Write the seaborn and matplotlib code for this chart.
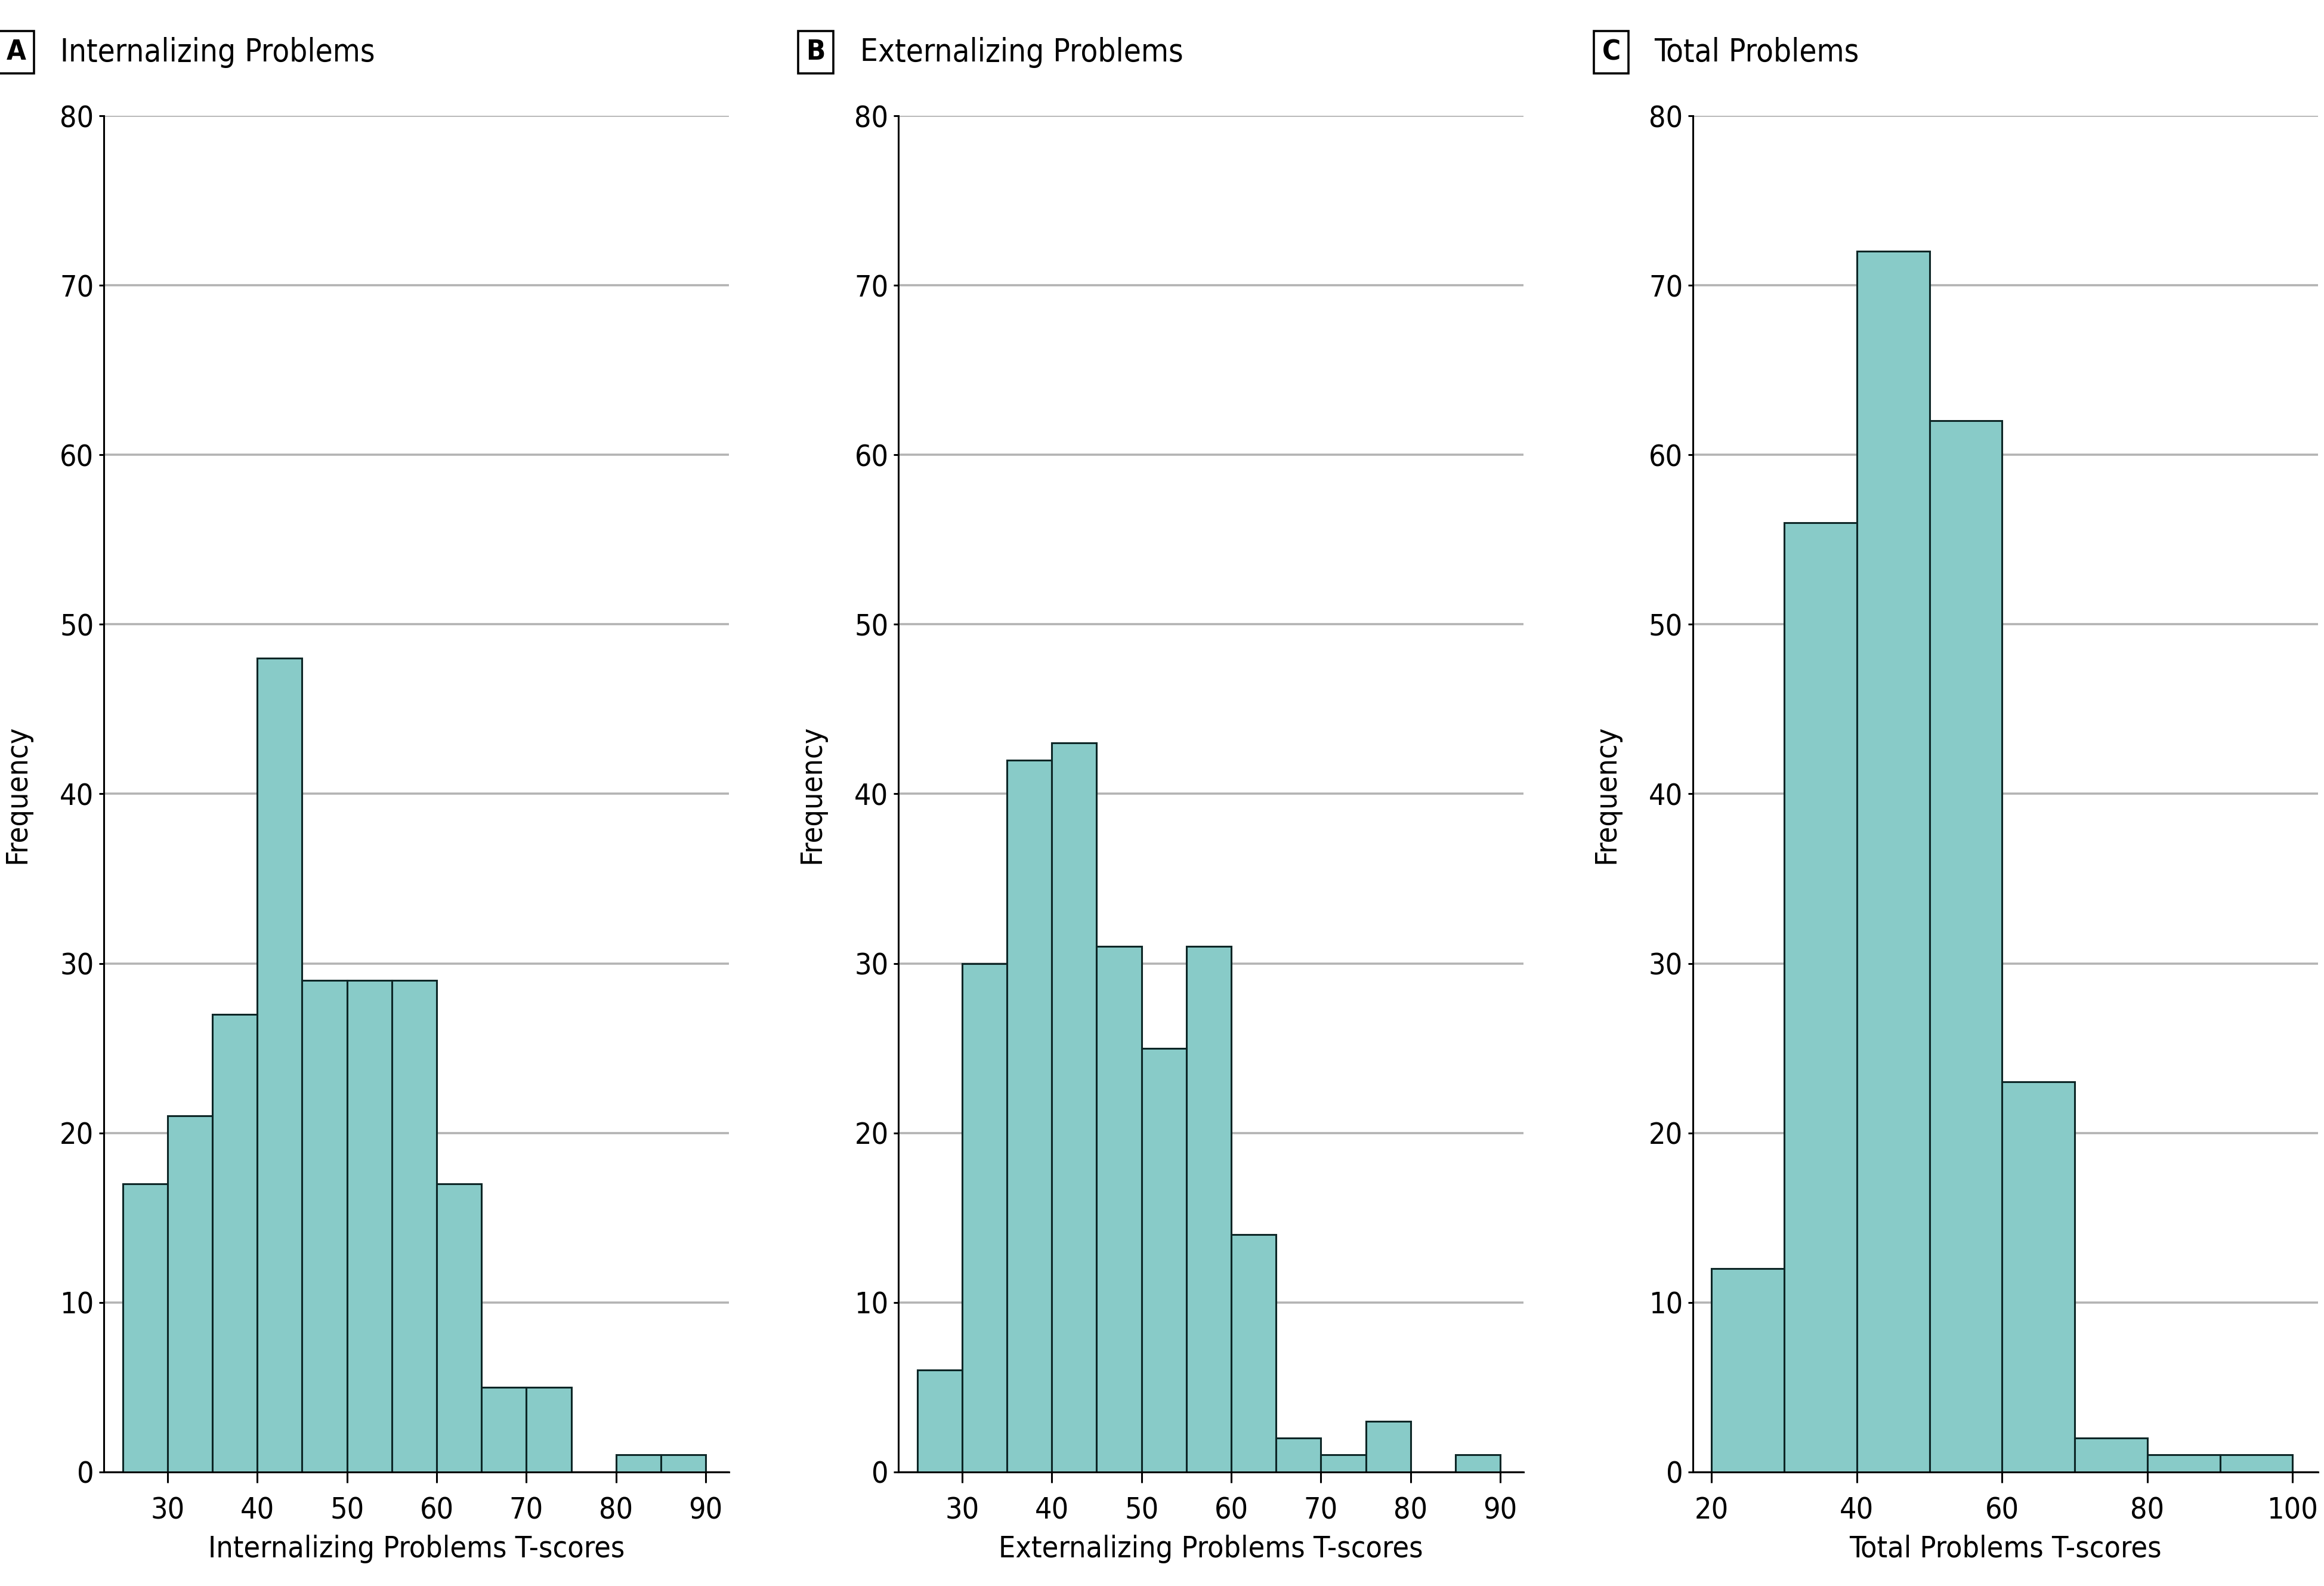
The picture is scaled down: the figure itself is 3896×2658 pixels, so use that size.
import numpy as np
import pandas as pd
import seaborn as sns
import matplotlib.pyplot as plt

# --- DATA ---
int_edges = [25, 30, 35, 40, 45, 50, 55, 60, 65, 70, 75, 80, 85, 90]
int_counts = [17, 21, 27, 48, 29, 29, 29, 17, 5, 5, 0, 1, 1]

ext_edges = [25, 30, 35, 40, 45, 50, 55, 60, 65, 70, 75, 80, 85, 90]
ext_counts = [6, 30, 42, 43, 31, 25, 31, 14, 2, 1, 3, 0, 1]

tot_edges = [20, 30, 40, 50, 60, 70, 80, 90, 100]
tot_counts = [12, 56, 72, 62, 23, 2, 1, 1]

panel_letters = ["A", "B", "C"]
panel_titles = ["Internalizing Problems", "Externalizing Problems", "Total Problems"]
x_labels = ["Internalizing Problems T-scores", "Externalizing Problems T-scores",
            "Total Problems T-scores"]
x_ticks = [[30, 40, 50, 60, 70, 80, 90], [30, 40, 50, 60, 70, 80, 90],
           [20, 40, 60, 80, 100]]
x_lims = [(22.9, 92.6), (22.9, 92.6), (17.4, 103.5)]
y_ticks = [0, 10, 20, 30, 40, 50, 60, 70, 80]

BAR_COLOR = "#88cbc8"
EDGE_COLOR = "#0d2626"
GRID_COLOR = "#b3b3b3"

sns.set_theme(style="white")
plt.rcParams["font.family"] = ["DejaVu Sans"]
plt.rcParams["font.stretch"] = "condensed"

fig = plt.figure(figsize=(19.48, 13.29), dpi=200)

lefts = [0.0447, 0.3866, 0.7284]
box_x = [0.0071, 0.351, 0.6933]
title_x = [0.026, 0.370, 0.7118]
data = [(int_edges, int_counts), (ext_edges, ext_counts), (tot_edges, tot_counts)]

for i, (edges, counts) in enumerate(data):
    ax = fig.add_axes([lefts[i], 0.0719, 0.269, 0.8551])
    centers = [(edges[k] + edges[k + 1]) / 2 for k in range(len(counts))]
    df = pd.DataFrame({"score": centers, "n": counts})
    sns.histplot(data=df, x="score", weights="n", bins=edges, ax=ax,
                 color=BAR_COLOR, edgecolor=EDGE_COLOR, linewidth=1.1, alpha=1)

    ax.set_xlim(*x_lims[i])
    ax.set_ylim(0, 80)
    ax.set_yticks(y_ticks)
    ax.set_xticks(x_ticks[i])
    ax.yaxis.grid(True, color=GRID_COLOR, linewidth=1.3)
    ax.set_axisbelow(True)
    for side in ["top", "right"]:
        ax.spines[side].set_visible(False)
    for side in ["left", "bottom"]:
        ax.spines[side].set_color("black")
        ax.spines[side].set_linewidth(1.1)
    ax.tick_params(axis="x", direction="out", length=6.5, width=1.1, colors="black",
                   labelsize=18, pad=8, bottom=True)
    ax.tick_params(axis="y", direction="out", length=3, width=1.1, colors="black",
                   labelsize=18, pad=3, left=True)
    ax.set_xlabel(x_labels[i], fontsize=18, color="black", labelpad=6)
    ax.set_ylabel("Frequency", fontsize=18, color="black")
    ax.yaxis.set_label_coords(-0.116, 0.5)

    # panel letter in a box, then the title
    fig.text(box_x[i], 0.967, panel_letters[i], fontsize=17, fontweight="bold",
             ha="center", va="center", color="black",
             bbox=dict(boxstyle="square,pad=0.28", facecolor="white", edgecolor="black",
                       linewidth=1.3))
    fig.text(title_x[i], 0.967, panel_titles[i], fontsize=19,
             ha="left", va="center", color="black")

fig.savefig("out.png", dpi=200, facecolor="white")
